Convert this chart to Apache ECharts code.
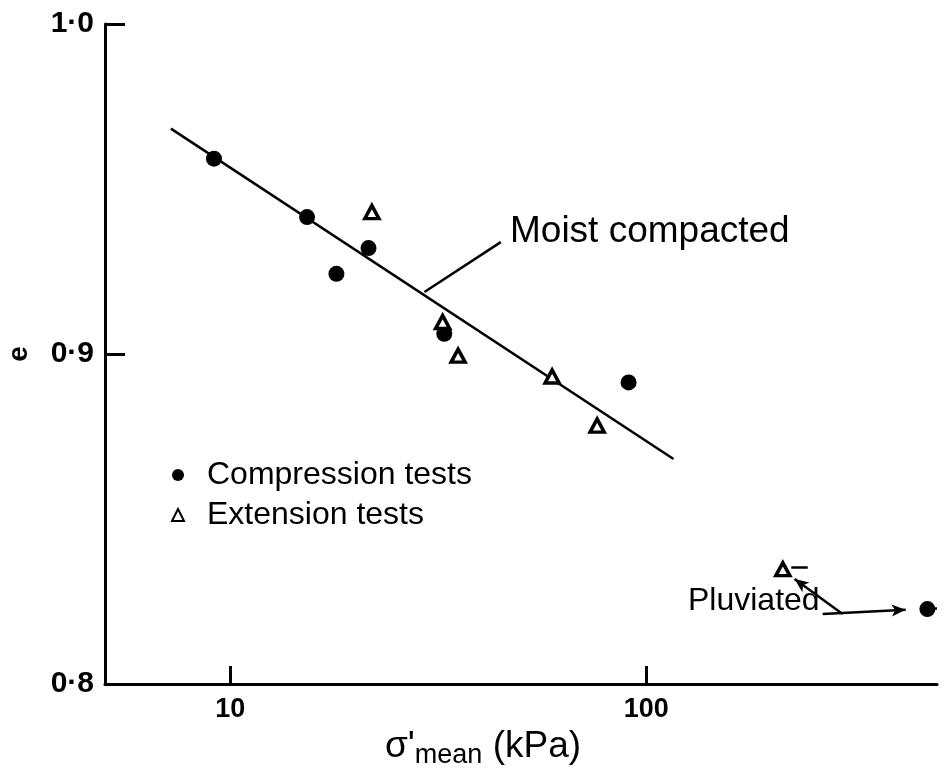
<!DOCTYPE html>
<html>
<head>
<meta charset="utf-8">
<script src="https://cdn.jsdelivr.net/npm/echarts@6/dist/echarts.min.js"></script>
<style>
  html, body { margin: 0; background: #fff; }
  #chart { width: 949px; height: 771px; }
</style>
</head>
<body>
<div id="chart"></div>
<script>
// sigma'mean (kPa), void ratio e
const compression = [[9.14, 0.9592], [15.3, 0.9415], [18.0, 0.9243], [21.5, 0.9321], [32.7, 0.9061], [90.7, 0.8914], [474, 0.8227]]
const extension = [[21.9, 0.9430], [32.4, 0.9097], [35.3, 0.8995], [59.4, 0.8932], [76.2, 0.8783], [213, 0.8348]]
const fitLine = [[7.2, 0.9683], [116.3, 0.8682]]
const xTicks = [10, 100]

// leader lines of the annotations, in data units
const moistLeader = [[29.3, 0.9188], [44.7, 0.9339]]
const pluvUpper = [[296.5, 0.8212], [227.3, 0.8318]]
const pluvLower = [[265.6, 0.8212], [420.4, 0.8225]]
const triTail = [[223.2, 0.8353], [244.5, 0.8353]]
const dotTail = [[486, 0.8231], [500, 0.8231]]

const font = '"Liberation Sans", Arial, sans-serif'

function seg (pts, arrow) {
  return [
    { coord: pts[0], symbol: 'none' },
    { coord: pts[1], symbol: arrow ? 'arrow' : 'none', symbolSize: [9, 14] }
  ]
}

const chart = echarts.init(document.getElementById('chart'))

chart.setOption({
  animation: false,
  grid: { left: 105, right: 12, top: 24, bottom: 87, outerBoundsMode: 'none' },
  legend: {
    orient: 'vertical',
    left: 166,
    top: 454,
    itemWidth: 12,
    itemHeight: 12,
    itemGap: 8,
    textStyle: { fontSize: 32, color: '#000', fontFamily: font, padding: [0, 0, 0, 18] },
    data: [
      { name: 'Compression tests', icon: 'circle' },
      { name: 'Extension tests', icon: 'triangle' }
    ]
  },
  xAxis: {
    type: 'log',
    logBase: 10,
    min: 5,
    max: 500,
    name: "{s|σ'}{sub|mean}{n| (kPa)}",
    nameLocation: 'middle',
    nameGap: 32,
    nameTextStyle: {
      padding: [0, 76, 0, 0],
      rich: {
        s: { fontSize: 37, fontFamily: font, color: '#000' },
        sub: { fontSize: 27, fontFamily: font, color: '#000', padding: [18, 0, 0, 0] },
        n: { fontSize: 37, fontFamily: font, color: '#000' }
      }
    },
    axisLine: { lineStyle: { color: '#000', width: 3 } },
    axisTick: { inside: true, length: 18, customValues: xTicks, lineStyle: { color: '#000', width: 3 } },
    minorTick: { show: false },
    axisLabel: { customValues: xTicks, fontSize: 27, fontWeight: 'bold', color: '#000', fontFamily: font, margin: 12 },
    splitLine: { show: false }
  },
  yAxis: {
    type: 'value',
    min: 0.8,
    max: 1.0,
    interval: 0.1,
    name: 'e',
    nameLocation: 'middle',
    nameRotate: 90,
    nameGap: 72,
    nameTextStyle: { fontSize: 28, color: '#000', fontFamily: font, fontWeight: 'bold' },
    axisLine: { lineStyle: { color: '#000', width: 3 } },
    axisTick: { inside: true, length: 20, lineStyle: { color: '#000', width: 3 } },
    axisLabel: {
      fontSize: 30, fontWeight: 'bold', color: '#000', fontFamily: font, margin: 11,
      formatter: v => v.toFixed(1).replace('.', '·')
    },
    splitLine: { show: false }
  },
  series: [
    {
      name: 'fit',
      type: 'line',
      data: fitLine,
      symbol: 'none',
      silent: true,
      lineStyle: { color: '#000', width: 2.5 },
      markLine: {
        silent: true,
        label: { show: false },
        lineStyle: { color: '#000', width: 2.5, type: 'solid' },
        data: [
          seg(moistLeader),
          seg(pluvUpper, true),
          seg(pluvLower, true),
          seg(triTail),
          seg(dotTail)
        ]
      }
    },
    {
      name: 'Compression tests',
      type: 'scatter',
      data: compression,
      symbol: 'circle',
      symbolSize: 16,
      itemStyle: { color: '#000', opacity: 1 },
      z: 3
    },
    {
      name: 'Extension tests',
      type: 'scatter',
      data: extension,
      symbol: 'triangle',
      symbolSize: [14, 13],
      itemStyle: { color: '#fff', borderColor: '#000', borderWidth: 3.5, opacity: 1 },
      z: 4
    }
  ],
  graphic: [
    {
      type: 'text', left: 510, top: 213,
      style: { text: 'Moist compacted', font: '37px ' + font, fill: '#000' }
    },
    {
      type: 'text', left: 688, top: 585,
      style: { text: 'Pluviated', font: '32px ' + font, fill: '#000' }
    }
  ]
})
</script>
</body>
</html>
